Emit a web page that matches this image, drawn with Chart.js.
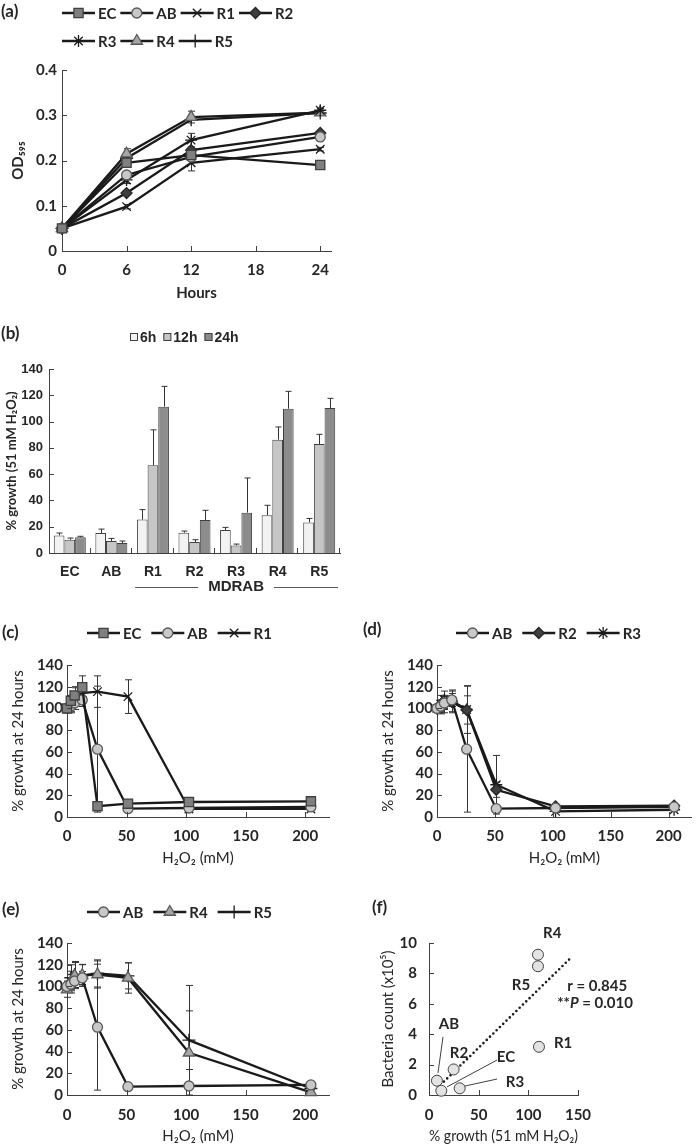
<!DOCTYPE html>
<html>
<head>
<meta charset="utf-8">
<title>Growth and H2O2 tolerance</title>
<script src="https://cdn.jsdelivr.net/npm/chart.js@4.4.1/dist/chart.umd.min.js"></script>
<style>
  body { margin: 0; background: #fff; }
  #fig { position: relative; width: 699px; height: 1145px; overflow: hidden; }
  #fig canvas { position: absolute; }
  .tag { position: absolute; font: bold 17px Lato, sans-serif; color: #262626; line-height: 17px; }
</style>
</head>
<body>
<div id="fig">
  <canvas id="pa" width="360" height="305" style="left:0;top:0"></canvas>
  <canvas id="pb" width="346" height="295" style="left:0;top:305px"></canvas>
  <canvas id="pc" width="350" height="270" style="left:0;top:600px"></canvas>
  <canvas id="pd" width="349" height="270" style="left:350px;top:600px"></canvas>
  <canvas id="pe" width="350" height="275" style="left:0;top:870px"></canvas>
  <canvas id="pf" width="349" height="275" style="left:350px;top:870px"></canvas>
  <div class="tag" style="left:1px;top:2px">(a)</div>
  <div class="tag" style="left:1px;top:324px">(b)</div>
  <div class="tag" style="left:2px;top:623px">(c)</div>
  <div class="tag" style="left:363px;top:620px">(d)</div>
  <div class="tag" style="left:2px;top:900px">(e)</div>
  <div class="tag" style="left:372px;top:898px">(f)</div>
</div>
<script>
// ---- (a) OD595 growth curves ----
const hours = [0, 6, 12, 24];
const odEC = [0.05, 0.195, 0.212, 0.19];
const odAB = [0.05, 0.168, 0.208, 0.252];
const odR1 = [0.05, 0.098, 0.195, 0.225];
const odR2 = [0.05, 0.128, 0.223, 0.261];
const odR3 = [0.05, 0.157, 0.245, 0.311];
const odR4 = [0.05, 0.215, 0.296, 0.306];
const odR5 = [0.05, 0.205, 0.29, 0.305];
const odErrR1 = [0, 0.005, 0.018, 0.004];
const odErrR3 = [0, 0.008, 0.015, 0.004];
const odErrR4 = [0, 0.011, 0.013, 0.004];

// ---- (b) % growth in 51 mM H2O2 ----
const strains = ["EC", "AB", "R1", "R2", "R3", "R4", "R5"];
const growth6h = [13.4, 15.2, 25.4, 15.5, 17.5, 28.7, 23.3];
const growth12h = [10.1, 9.1, 66.7, 8.4, 5.8, 86.2, 82.9];
const growth24h = [11.9, 7.6, 111.3, 25.1, 30.7, 109.8, 110.3];
const err6h = [1.8, 3, 7.6, 1.2, 2, 7.6, 3];
const err12h = [1.3, 2, 27, 1.7, 1, 9.7, 7.4];
const err24h = [0.8, 1.5, 15.5, 7.4, 26.4, 13.2, 7.4];

// ---- (c)-(e) % growth at 24 h vs H2O2 ----
const h2o2 = [0, 3.2, 6.4, 12.8, 25.6, 51.2, 102.4, 204.8];
const doseEC = [100, 107, 112, 119.5, 10, 12.3, 13.8, 14.4];
const doseAB = [100, 102, 105, 107.8, 62.5, 7.7, 8.3, 9.3];
const doseR1 = [100, 104, 109, 114, 115.5, 110.9, 7.4, 7.4];
const doseR2 = [100, 101, 104, 106, 98.6, 25.1, 9.8, 10.4];
const doseR3 = [100, 104, 108, 107, 99, 29.7, 5.2, 6.7];
const doseR4 = [97, 104, 110, 110.3, 111, 107.8, 38.9, 2.5];
const doseR5 = [100, 108, 111, 110, 112, 109.7, 50.5, 6];
const doseErrEC = [3, 5, 8, 10.5, 1, 1, 1, 1];
const doseErrAB = [3, 5, 6, 6, 58, 1, 1, 1];
const doseErrR1 = [3, 8, 10, 8, 14.5, 15.5, 1, 1];
const doseErrR2 = [3, 6, 8, 10, 13, 7, 1, 1];
const doseErrR3 = [3, 8, 8, 10, 22, 27, 1, 1];
const doseErrR4 = [7, 10, 12, 10, 12.5, 14, 62, 1];
const doseErrR5 = [5, 12, 12, 10, 12.5, 12, 27, 1];

// ---- (f) bacteria count vs % growth ----
const fGrowth = [12.4, 8, 110.7, 24.8, 30.9, 109.7, 109.7]; // same order as strains
const fCount = [0.28, 0.94, 3.17, 1.68, 0.44, 9.23, 8.47];
const trendX = [15, 142];
const trendY = [0.88, 8.97];
const fNotes = [
  { text: "R4", x: 124, y: 10.66 }, { text: "R5", x: 92.6, y: 7.24 },
  { text: "R1", x: 135, y: 3.42 }, { text: "AB", x: 20, y: 4.67 },
  { text: "R2", x: 30.2, y: 2.76 }, { text: "EC", x: 77.5, y: 2.5 },
  { text: "R3", x: 86.6, y: 0.86 },
];
const fLeaders = [[14.1, 3.82, 9.06, 1.45], [68.5, 2.3, 18.1, 0.53], [68.5, 1.05, 36.2, 0.59]];

Chart.defaults.font.family = "Lato, 'DejaVu Sans', sans-serif";
Chart.defaults.color = "#262626";
Chart.defaults.animation = false;
Chart.defaults.responsive = false;
Chart.defaults.plugins.legend.display = false;
Chart.defaults.plugins.tooltip.enabled = false;

const AX = "#404040";
const INK = "#1a1a1a";
const NARROW = "'Liberation Sans Narrow', 'Liberation Sans', sans-serif";

const marks = {
  EC: { style: "rect", r: 6.5, bg: "#7f7f7f", bd: "#404040" },
  AB: { style: "circle", r: 5, bg: "#c8c8c8", bd: "#595959" },
  R1: { style: "crossRot", r: 6, bg: INK, bd: INK },
  R2: { style: "rectRot", r: 5.5, bg: "#3f3f3f", bd: "#262626" },
  R3: { style: "star", r: 6, bg: INK, bd: INK },
  R4: { style: "triangle", r: 6.5, bg: "#a6a6a6", bd: "#595959" },
  R5: { style: "cross", r: 6.5, bg: INK, bd: INK },
};

function series(name, xs, ys, errs) {
  const m = marks[name];
  return {
    label: name,
    data: xs.map((x, i) => ({ x: x, y: ys[i] })),
    errors: errs,
    borderColor: INK,
    borderWidth: 2.3,
    pointStyle: m.style,
    pointRadius: m.r,
    pointBackgroundColor: m.bg,
    pointBorderColor: m.bd,
    pointBorderWidth: 1.3,
    tension: 0,
    clip: false,
  };
}

// fixes the plot box inside a canvas: l,t,r,b in canvas pixels
function frame(W, H, box) {
  return {
    layout: { padding: { left: 0, top: box.t, right: W - box.r, bottom: 0 } },
    fitX: (s) => { s.height = H - box.b; },
    fitY: (s) => { s.width = box.l; },
  };
}

function linScale(min, max, step, fit, pad, title, tickFont) {
  return {
    type: "linear",
    min: min,
    max: max,
    afterFit: fit,
    border: { display: true, color: AX, width: 1 },
    grid: { display: false, drawTicks: false },
    ticks: { stepSize: step, includeBounds: false, padding: pad, font: tickFont || { size: 15, weight: "bold" } },
    title: title,
  };
}

// legend drawn as rows: line + marker, or a small box
const keyRows = {
  id: "keyRows",
  afterDraw(chart, args, o) {
    if (!o.rows) return;
    const ctx = chart.ctx;
    ctx.save();
    ctx.font = o.font || "bold 15px Lato, sans-serif";
    ctx.textBaseline = "middle";
    o.rows.forEach((row, r) => {
      let x = o.x;
      const y = o.y + r * (o.rowGap || 0);
      row.forEach((name) => {
        const ds = chart.data.datasets.find((d) => d.label === name);
        if (o.box) {
          ctx.fillStyle = ds.backgroundColor;
          ctx.strokeStyle = ds.borderColor;
          ctx.lineWidth = 1;
          ctx.fillRect(x, y - o.box / 2, o.box, o.box);
          ctx.strokeRect(x + 0.5, y - o.box / 2 + 0.5, o.box - 1, o.box - 1);
          x += o.box + o.gap;
        } else {
          ctx.strokeStyle = INK;
          ctx.lineWidth = 2.5;
          ctx.beginPath();
          ctx.moveTo(x, y);
          ctx.lineTo(x + o.line, y);
          ctx.stroke();
          ctx.fillStyle = ds.pointBackgroundColor;
          ctx.strokeStyle = ds.pointBorderColor;
          ctx.lineWidth = ds.pointBorderWidth;
          Chart.helpers.drawPoint(ctx, { pointStyle: ds.pointStyle, radius: ds.pointRadius, rotation: 0, borderWidth: ds.pointBorderWidth }, x + o.line / 2, y);
          x += o.line + o.gap;
        }
        ctx.fillStyle = "#262626";
        ctx.fillText(name, x, y + 1);
        x += ctx.measureText(name).width + o.after;
      });
    });
    ctx.restore();
  },
};

function drawErrors(chart, o) {
  const ctx = chart.ctx;
  const ys = chart.scales.y;
  ctx.save();
  ctx.strokeStyle = o.color || "#333";
  ctx.lineWidth = 1;
  chart.data.datasets.forEach((ds, di) => {
    if (!ds.errors) return;
    chart.getDatasetMeta(di).data.forEach((el, i) => {
      const e = ds.errors[i];
      if (!e) return;
      const v = typeof ds.data[i] === "object" ? ds.data[i].y : ds.data[i];
      const top = ys.getPixelForValue(v + e);
      const bot = o.plusOnly ? ys.getPixelForValue(v) : ys.getPixelForValue(Math.max(v - e, 0));
      const x = Math.round(el.x) + 0.5;
      const c = o.cap || 3;
      ctx.beginPath();
      ctx.moveTo(x, top);
      ctx.lineTo(x, bot);
      ctx.moveTo(x - c, top);
      ctx.lineTo(x + c, top);
      if (!o.plusOnly) {
        ctx.moveTo(x - c, bot);
        ctx.lineTo(x + c, bot);
      }
      ctx.stroke();
    });
  });
  ctx.restore();
}

const errorBars = {
  id: "errorBars",
  beforeDatasetsDraw(chart, args, o) { if (o.cap && !o.plusOnly) drawErrors(chart, o); },
  afterDatasetsDraw(chart, args, o) { if (o.cap && o.plusOnly) drawErrors(chart, o); },
};

// tick marks pointing into the plot
const innerTicks = {
  id: "innerTicks",
  afterDraw(chart, args, o) {
    const xs = chart.scales.x, ys = chart.scales.y, ctx = chart.ctx;
    const L = o.len || 5;
    ctx.save();
    ctx.strokeStyle = AX;
    ctx.lineWidth = 1;
    ctx.beginPath();
    ys.ticks.forEach((t) => {
      const py = Math.round(ys.getPixelForValue(t.value)) + 0.5;
      ctx.moveTo(xs.left, py);
      ctx.lineTo(xs.left + L, py);
    });
    if (o.xBounds) {
      const n = xs.ticks.length, w = (xs.right - xs.left) / n;
      for (let i = 1; i <= n; i++) {
        const px = Math.round(xs.left + i * w) - 0.5;
        ctx.moveTo(px, ys.bottom);
        ctx.lineTo(px, ys.bottom - L);
      }
    } else {
      xs.ticks.forEach((t) => {
        const px = Math.round(xs.getPixelForValue(t.value)) + 0.5;
        ctx.moveTo(px, ys.bottom);
        ctx.lineTo(px, ys.bottom - L);
      });
    }
    ctx.stroke();
    ctx.restore();
  },
};

// "MDRAB" bracket under the category axis
const groupLabel = {
  id: "groupLabel",
  afterDraw(chart, args, o) {
    if (!o.text) return;
    const xs = chart.scales.x, ctx = chart.ctx;
    const w = (xs.right - xs.left) / xs.ticks.length;
    const x0 = xs.getPixelForValue(o.from) - w / 2 + 3;
    const x1 = xs.getPixelForValue(o.to) + w / 2 - 2;
    const cx = xs.getPixelForValue(o.center);
    ctx.save();
    ctx.font = o.font;
    const tw = ctx.measureText(o.text).width;
    ctx.strokeStyle = "#595959";
    ctx.lineWidth = 1;
    ctx.beginPath();
    ctx.moveTo(x0, o.y + 0.5);
    ctx.lineTo(cx - tw / 2 - 10, o.y + 0.5);
    ctx.moveTo(cx + tw / 2 + 10, o.y + 0.5);
    ctx.lineTo(x1, o.y + 0.5);
    ctx.stroke();
    ctx.fillStyle = "#262626";
    ctx.textAlign = "center";
    ctx.textBaseline = "middle";
    ctx.fillText(o.text, cx, o.y);
    ctx.restore();
  },
};

// labels, leader lines and statistics in panel (f)
const notes = {
  id: "notes",
  afterDraw(chart, args, o) {
    if (!o.items) return;
    const xs = chart.scales.x, ys = chart.scales.y, ctx = chart.ctx;
    ctx.save();
    ctx.strokeStyle = "#404040";
    ctx.lineWidth = 1;
    ctx.beginPath();
    o.leaders.forEach((l) => {
      ctx.moveTo(xs.getPixelForValue(l[0]), ys.getPixelForValue(l[1]));
      ctx.lineTo(xs.getPixelForValue(l[2]), ys.getPixelForValue(l[3]));
    });
    ctx.stroke();
    ctx.fillStyle = "#262626";
    ctx.font = "bold 15px Lato, sans-serif";
    ctx.textAlign = "center";
    ctx.textBaseline = "middle";
    o.items.forEach((n) => ctx.fillText(n.text, xs.getPixelForValue(n.x), ys.getPixelForValue(n.y)));
    ctx.textAlign = "left";
    const sx = xs.getPixelForValue(o.stats.x);
    ctx.fillText("r = 0.845", sx + 10, ys.getPixelForValue(o.stats.y1));
    let px = sx;
    const py = ys.getPixelForValue(o.stats.y2);
    ctx.fillText("**", px, py);
    px += ctx.measureText("**").width;
    ctx.font = "italic bold 15px Lato, sans-serif";
    ctx.fillText("P", px, py);
    px += ctx.measureText("P").width;
    ctx.font = "bold 15px Lato, sans-serif";
    ctx.fillText(" = 0.010", px, py);
    ctx.restore();
  },
};

// ---- panel (a) ----
const fa = frame(360, 305, { l: 62, t: 70, r: 331, b: 251 });
new Chart(document.getElementById("pa"), {
  type: "line",
  data: {
    datasets: [
      series("EC", hours, odEC), series("AB", hours, odAB), series("R1", hours, odR1, odErrR1),
      series("R2", hours, odR2), series("R3", hours, odR3, odErrR3), series("R4", hours, odR4, odErrR4),
      series("R5", hours, odR5),
    ],
  },
  options: {
    layout: fa.layout,
    scales: {
      x: linScale(0, 25, 6, fa.fitX, 10.5, { display: true, text: "Hours", font: { size: 15, weight: "bold" }, padding: { top: 0, bottom: 3 } }),
      y: linScale(0, 0.4, 0.1, fa.fitY, 5, { display: true, text: "OD₅₉₅", font: { size: 15, weight: "bold" }, padding: { top: 9, bottom: 0 } }),
    },
    plugins: {
      keyRows: { rows: [["EC", "AB", "R1", "R2"], ["R3", "R4", "R5"]], x: 62, y: 13, rowGap: 28, line: 33, gap: 3, after: 4 },
      errorBars: { cap: 3.5 },
      innerTicks: { len: 5 },
    },
  },
  plugins: [keyRows, errorBars, innerTicks],
});

// ---- panel (b) ----
const fb = frame(346, 295, { l: 49, t: 64, r: 340, b: 248 });
const narrowBold = { family: NARROW, size: 13, weight: "bold" };
new Chart(document.getElementById("pb"), {
  type: "bar",
  data: {
    labels: strains,
    datasets: [
      { label: "6h", data: growth6h, errors: err6h, backgroundColor: "#f2f2f2", borderColor: AX, borderWidth: 1 },
      { label: "12h", data: growth12h, errors: err12h, backgroundColor: "#c6c6c6", borderColor: AX, borderWidth: 1 },
      { label: "24h", data: growth24h, errors: err24h, backgroundColor: "#8c8c8c", borderColor: AX, borderWidth: 1 },
    ],
  },
  options: {
    layout: fb.layout,
    datasets: { bar: { barPercentage: 1, categoryPercentage: 0.77 } },
    scales: {
      x: {
        type: "category",
        afterFit: fb.fitX,
        border: { display: true, color: AX, width: 1 },
        grid: { display: false, drawTicks: false },
        ticks: { padding: 11, font: { family: NARROW, size: 14, weight: "bold" } },
      },
      y: linScale(0, 140, 20, fb.fitY, 6, { display: true, text: "% growth (51 mM H₂O₂)", font: { size: 13, weight: "bold" }, padding: { top: 4, bottom: 0 } }, narrowBold),
    },
    plugins: {
      keyRows: { rows: [["6h", "12h", "24h"]], x: 130, y: 32, box: 8, gap: 2, after: 7, font: "bold 14px " + NARROW },
      errorBars: { cap: 3, plusOnly: true },
      innerTicks: { len: 5, xBounds: true },
      groupLabel: { text: "MDRAB", from: 2, to: 6, center: 4, y: 282, font: "bold 15px " + NARROW },
    },
  },
  plugins: [keyRows, errorBars, innerTicks, groupLabel],
});

// ---- panels (c), (d), (e) ----
const doseSets = {
  EC: [doseEC, doseErrEC], AB: [doseAB, doseErrAB], R1: [doseR1, doseErrR1], R2: [doseR2, doseErrR2],
  R3: [doseR3, doseErrR3], R4: [doseR4, doseErrR4], R5: [doseR5, doseErrR5],
};

function doseChart(id, W, H, box, names, key, yTitlePad, xTitlePad, xTickPad) {
  const f = frame(W, H, box);
  return new Chart(document.getElementById(id), {
    type: "line",
    data: { datasets: names.map((n) => series(n, h2o2, doseSets[n][0], doseSets[n][1])) },
    options: {
      layout: f.layout,
      scales: {
        x: linScale(0, 220, 50, f.fitX, xTickPad, { display: true, text: "H₂O₂ (mM)", font: { size: 15 }, padding: { top: 0, bottom: xTitlePad } }),
        y: linScale(0, 140, 20, f.fitY, 4, { display: true, text: "% growth at 24 hours", font: { size: 15 }, padding: { top: yTitlePad, bottom: 0 } }),
      },
      plugins: {
        keyRows: { rows: [names], x: key.x, y: key.y, line: 33, gap: 3, after: 10 },
        errorBars: { cap: 3.5 },
        innerTicks: { len: 5 },
      },
    },
    plugins: [keyRows, errorBars, innerTicks],
  });
}

doseChart("pc", 350, 270, { l: 67, t: 65, r: 329, b: 217 }, ["EC", "AB", "R1"], { x: 87, y: 33 }, 9, 2.5, 10.5);
doseChart("pd", 349, 270, { l: 87, t: 65, r: 347, b: 217 }, ["AB", "R2", "R3"], { x: 106, y: 33 }, 29, 2.5, 10.5);
doseChart("pe", 350, 275, { l: 67, t: 73, r: 329, b: 225 }, ["AB", "R4", "R5"], { x: 87, y: 42 }, 9, 0, 11);

// ---- panel (f) ----
const ff = frame(349, 275, { l: 79, t: 73, r: 228, b: 225 });
new Chart(document.getElementById("pf"), {
  type: "scatter",
  data: {
    datasets: [
      {
        label: "strains",
        data: fGrowth.map((x, i) => ({ x: x, y: fCount[i] })),
        pointRadius: 5.5,
        pointBackgroundColor: "#e3e3e3",
        pointBorderColor: "#404040",
        pointBorderWidth: 1,
        clip: false,
      },
      {
        label: "trend",
        type: "line",
        data: trendX.map((x, i) => ({ x: x, y: trendY[i] })),
        borderColor: INK,
        borderWidth: 2.6,
        borderDash: [0, 4.6],
        borderCapStyle: "round",
        pointRadius: 0,
        clip: false,
      },
    ],
  },
  options: {
    layout: ff.layout,
    scales: {
      x: linScale(0, 150, 50, ff.fitX, 11, { display: true, text: "% growth (51 mM H₂O₂)", font: { size: 15 }, padding: { top: 0, bottom: 0 } }),
      y: linScale(0, 10, 2, ff.fitY, 12, { display: true, text: "Bacteria count (x10⁵)", font: { size: 15 }, padding: { top: 29, bottom: 0 } }),
    },
    plugins: {
      innerTicks: { len: 5 },
      notes: { items: fNotes, leaders: fLeaders, stats: { x: 129, y1: 7.17, y2: 6.05 } },
    },
  },
  plugins: [innerTicks, notes],
});
</script>
</body>
</html>
